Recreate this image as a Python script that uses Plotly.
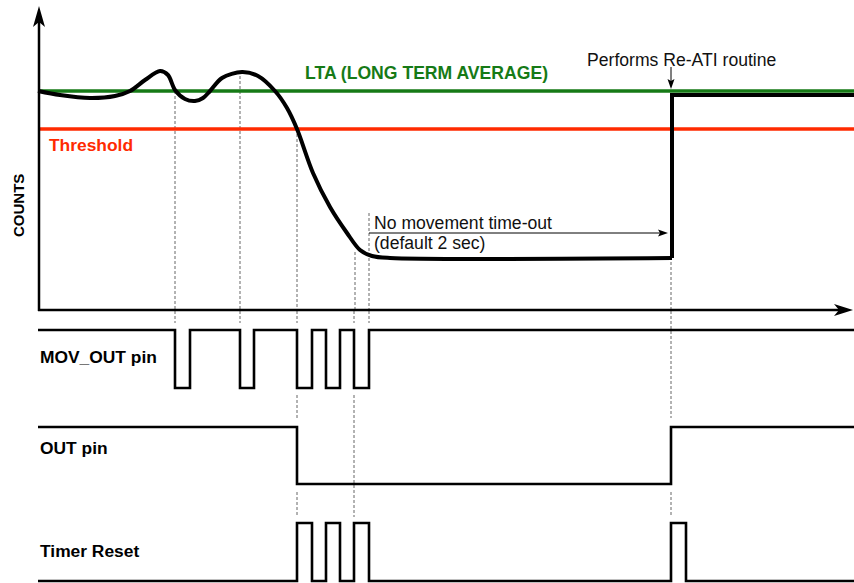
import plotly.graph_objects as go

# ---------------- data (diagram units = time / counts positions) ----------------
# Counts curve (smooth part)
curve_t = [38, 60, 90, 115, 130, 145, 160, 168, 175, 185, 195, 203, 210, 222, 242, 258, 275, 287, 297,
           313, 330, 347, 360, 372, 390, 672]
curve_c = [91, 95, 98, 96, 91, 80, 71, 75, 90, 99, 101, 98, 91, 78, 72, 76, 91, 108, 129,
           173, 207, 233, 250, 256, 258, 258]
# Re-ATI step
reati_t = [672, 672, 854]
reati_c = [258, 95, 95]

lta_level = 91
threshold_level = 129
t_start, t_end = 38, 854

# Digital signals: edge times
mov_out_edges = [175, 190, 240, 254, 297, 312, 326, 340, 354, 369]
out_pin_edges = [297, 671]
timer_reset_edges = [297, 312, 326, 340, 354, 369, 671, 686]
mov_out_levels = (330, 388)      # (start level, other level)
out_pin_levels = (427, 484)
timer_reset_levels = (581, 523)

# Dashed guide lines: (time, from, to)
guide_top_t = [175, 240, 297, 355, 369, 671]
guide_top_from = [91, 76, 129, 252, 213, 262]
guide_low_segments = [
    (175, 311, 323), (240, 311, 323), (297, 311, 323), (354, 311, 323), (369, 311, 323),
    (297, 395, 420), (297, 492, 517), (354, 395, 517),
    (671, 311, 418), (671, 492, 517),
]
axis_level = 309

signal_labels = ["MOV_OUT pin", "OUT pin", "Timer Reset"]
signal_label_pos = [357, 448, 551]

FONT = "Liberation Sans, Arial, sans-serif"


def steps(edges, levels):
    lo, hi = levels
    xs, ys = [t_start], [lo]
    level, other = lo, hi
    for e in edges:
        xs += [e, e]
        ys += [level, other]
        level, other = other, level
    xs.append(t_end)
    ys.append(level)
    return xs, ys


def arrowhead(tx, ty, dx, dy, L, W, N):
    nx, ny = -dy, dx
    bl = (tx - L * dx + W * nx, ty - L * dy + W * ny)
    br = (tx - L * dx - W * nx, ty - L * dy - W * ny)
    nc = (tx - (L - N) * dx, ty - (L - N) * dy)
    return dict(type="path", xref="x", yref="y",
                path=f"M{tx},{ty} L{bl[0]},{bl[1]} L{nc[0]},{nc[1]} L{br[0]},{br[1]} Z",
                fillcolor="black", line=dict(width=0), layer="above")


fig = go.Figure()

# dashed guides
gx, gy = [], []
for t, f in zip(guide_top_t, guide_top_from):
    gx += [t, t, None]
    gy += [f, axis_level, None]
for t, a, b in guide_low_segments:
    gx += [t, t, None]
    gy += [a, b, None]
fig.add_trace(go.Scatter(x=gx, y=gy, mode="lines",
                         line=dict(color="#666666", width=1, dash="3px,2px"), hoverinfo="skip"))

# LTA and threshold
fig.add_trace(go.Scatter(x=[t_start, t_end], y=[lta_level, lta_level], mode="lines",
                         line=dict(color="#167a16", width=3.5)))
fig.add_trace(go.Scatter(x=[t_start, t_end], y=[threshold_level, threshold_level], mode="lines",
                         line=dict(color="#ff2a00", width=3.5)))

# counts curve
fig.add_trace(go.Scatter(x=curve_t, y=curve_c, mode="lines",
                         line=dict(color="black", width=4, shape="spline", smoothing=0.9)))
fig.add_trace(go.Scatter(x=reati_t, y=reati_c, mode="lines",
                         line=dict(color="black", width=4)))

# digital signals
for edges, levels in [(mov_out_edges, mov_out_levels), (out_pin_edges, out_pin_levels),
                      (timer_reset_edges, timer_reset_levels)]:
    sx, sy = steps(edges, levels)
    fig.add_trace(go.Scatter(x=sx, y=sy, mode="lines", line=dict(color="black", width=2.6)))

shapes = []
# axes
shapes.append(dict(type="line", xref="x", yref="y", x0=39, y0=311, x1=39, y1=16,
                   line=dict(color="black", width=2.5)))
shapes.append(arrowhead(39, 6, 0, -1, 21, 6, 5))
shapes.append(dict(type="line", xref="x", yref="y", x0=38, y0=310, x1=842, y1=310,
                   line=dict(color="black", width=2.5)))
shapes.append(arrowhead(853, 310, 1, 0, 19, 6, 5))
# small arrows
shapes.append(dict(type="line", xref="x", yref="y", x0=671, y0=67, x1=671, y1=84,
                   line=dict(color="black", width=1)))
shapes.append(arrowhead(671, 89, 0, 1, 10, 3.5, 2))
shapes.append(dict(type="line", xref="x", yref="y", x0=369, y0=233, x1=662, y1=233,
                   line=dict(color="black", width=1)))
shapes.append(arrowhead(668, 233, 1, 0, 10, 3.5, 2))

annotations = [
    dict(x=426, y=73, text="<b>LTA (LONG TERM AVERAGE)</b>", font=dict(color="#167a16", size=17.6)),
    dict(x=47, y=145, text="<b>Threshold</b>", font=dict(color="#ff2a00", size=17.4), xanchor="left"),
    dict(x=18, y=206, text="<b>COUNTS</b>", textangle=-90, font=dict(color="black", size=15)),
    dict(x=585, y=60, text="Performs Re-ATI routine", font=dict(color="#111111", size=17.6), xanchor="left"),
    dict(x=372, y=223, text="No movement time-out", font=dict(color="#111111", size=17.6), xanchor="left"),
    dict(x=372, y=243, text="(default 2 sec)", font=dict(color="#111111", size=17.6), xanchor="left"),
]
for lab, y in zip(signal_labels, signal_label_pos):
    annotations.append(dict(x=38, y=y, text=f"<b>{lab}</b>", font=dict(color="black", size=17.4),
                            xanchor="left"))
for a in annotations:
    a.update(xref="x", yref="y", showarrow=False)
    a.setdefault("xanchor", "center")
    a["yanchor"] = "middle"

fig.update_layout(
    width=854, height=583, margin=dict(l=0, r=0, t=0, b=0),
    paper_bgcolor="white", plot_bgcolor="white", showlegend=False,
    font=dict(family=FONT),
    xaxis=dict(range=[0, 854], visible=False, fixedrange=True),
    yaxis=dict(range=[583, 0], visible=False, fixedrange=True),
    shapes=shapes, annotations=annotations,
)

fig.write_html("out.html", config={"displayModeBar": False},
               post_script="document.body.style.margin='0px';document.body.style.overflow='hidden';")
